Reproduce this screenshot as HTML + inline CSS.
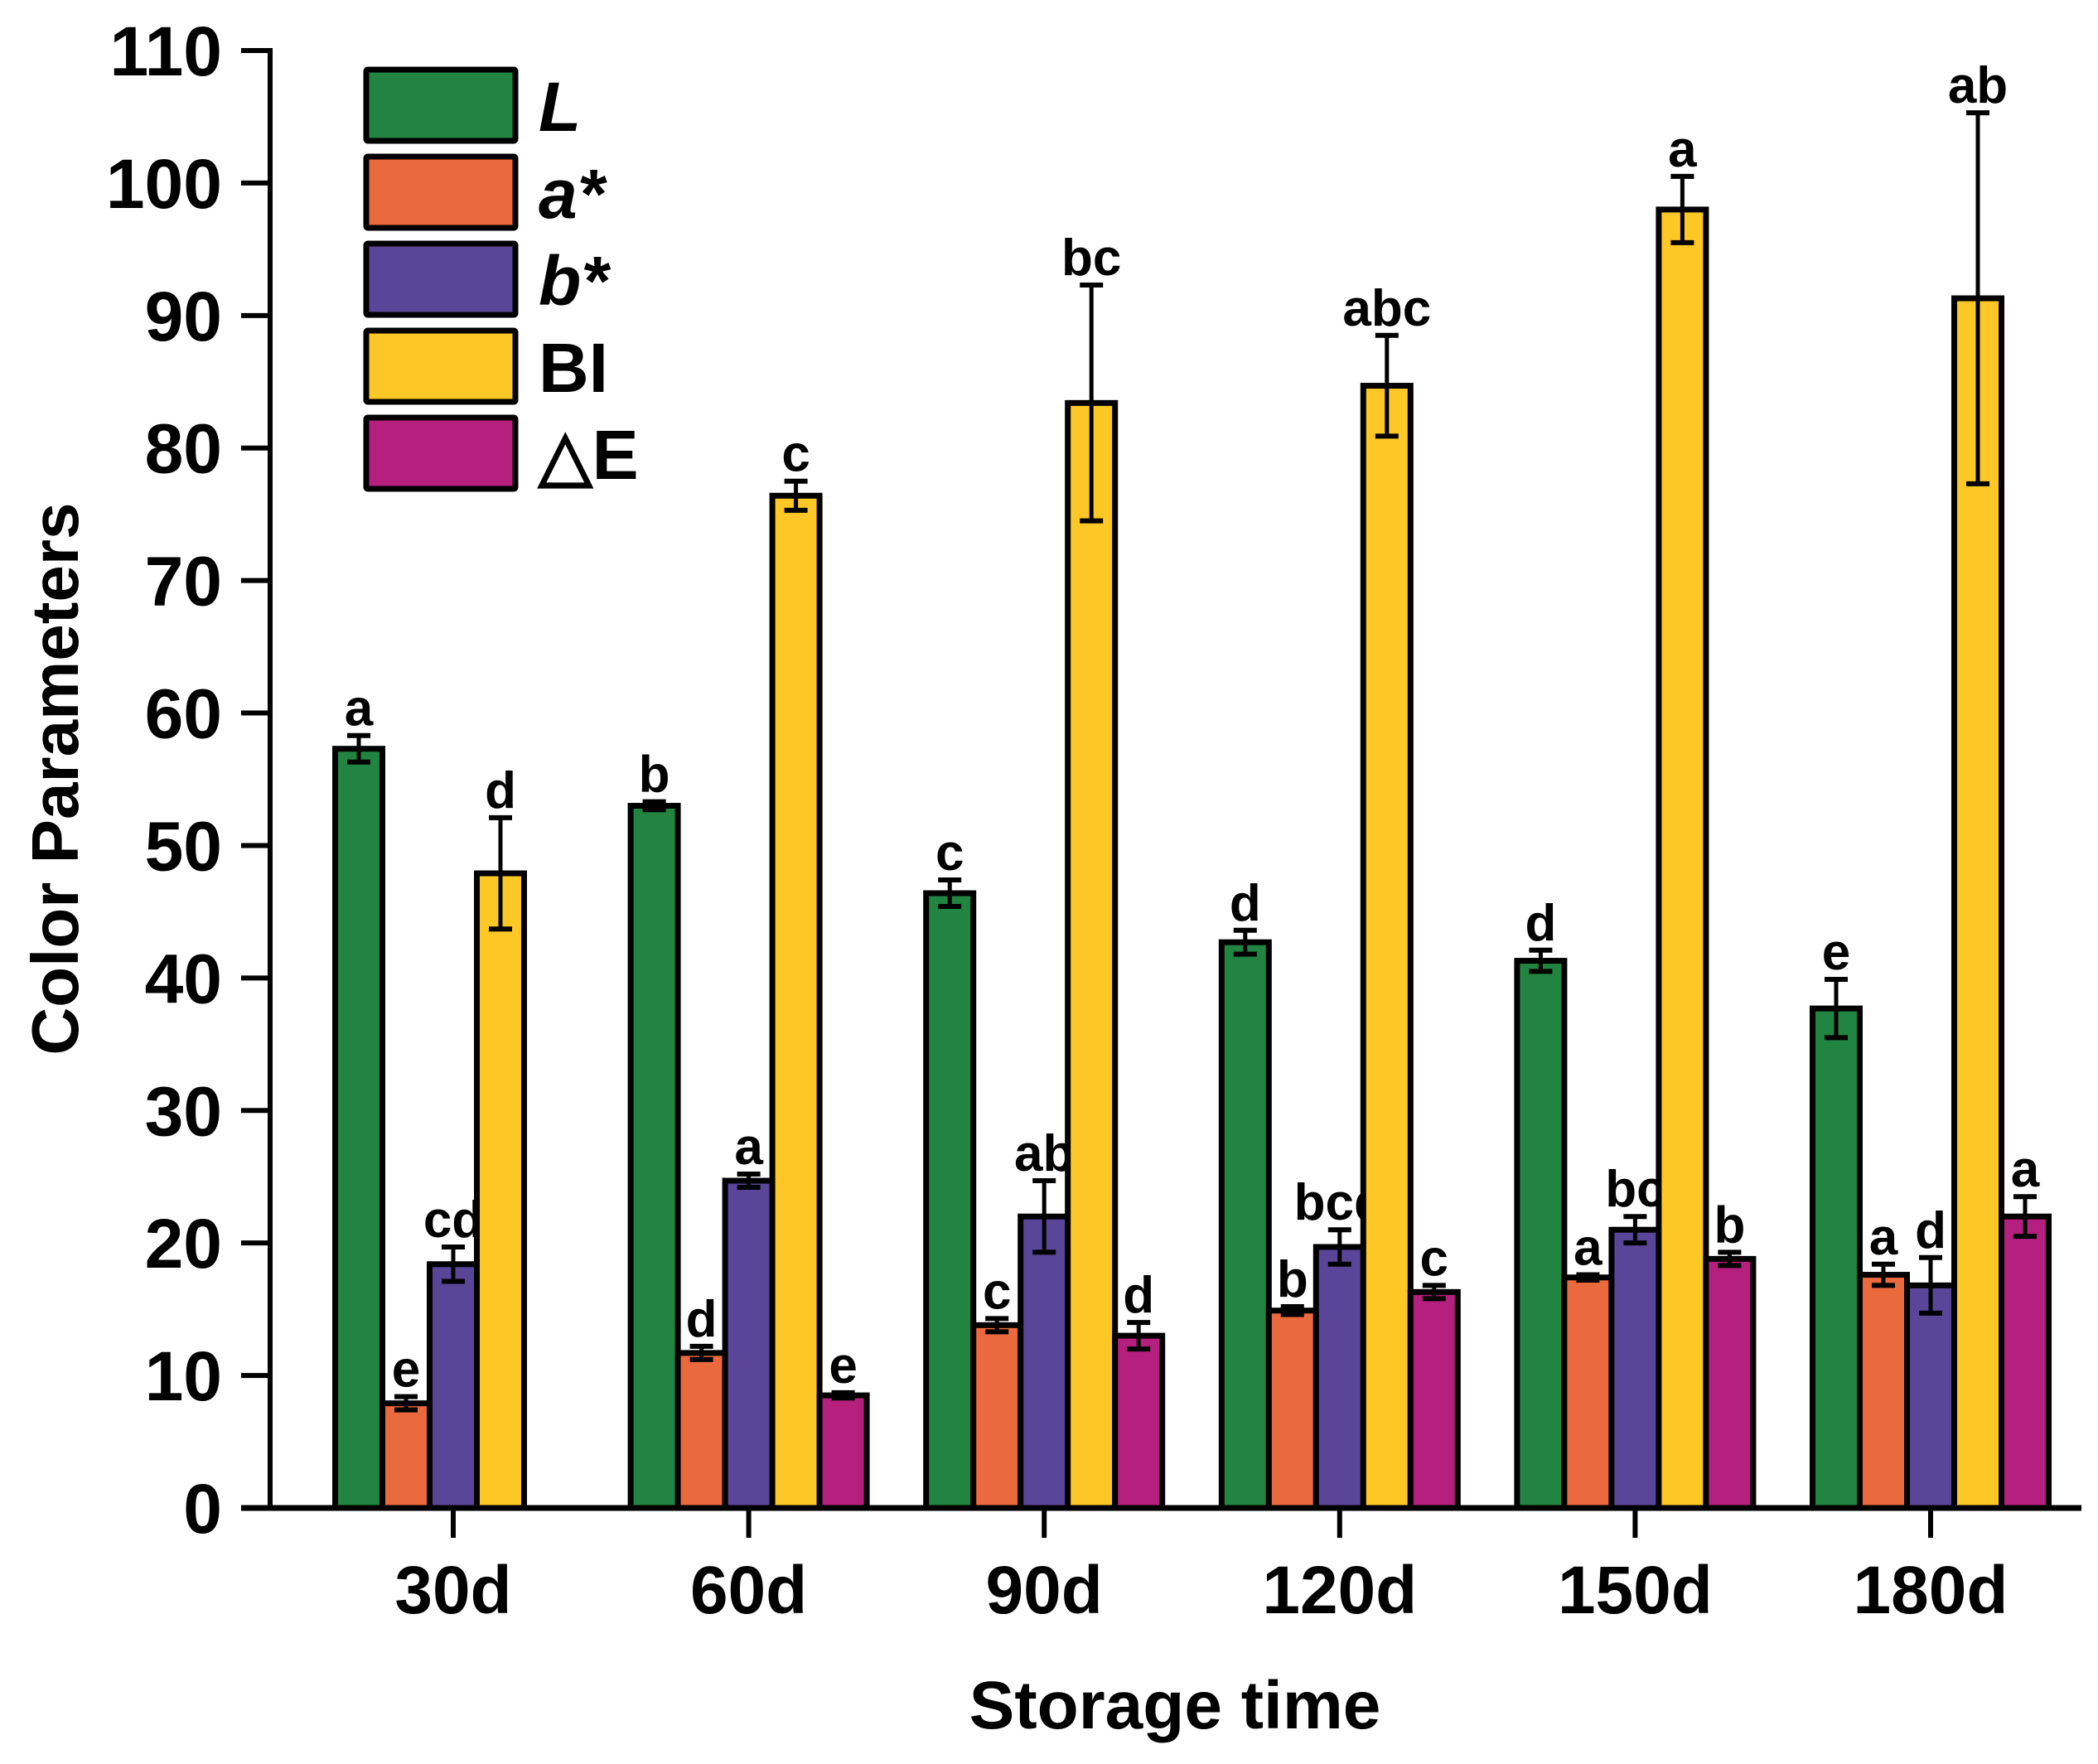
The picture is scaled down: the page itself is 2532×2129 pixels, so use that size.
<!DOCTYPE html>
<html><head><meta charset="utf-8"><style>
html,body{margin:0;padding:0;background:#fff;}
svg{display:block;font-family:"Liberation Sans",Arial,sans-serif;font-weight:bold;}
</style></head><body>
<svg id="chart" width="2532" height="2129" viewBox="0 0 2532 2129" xmlns="http://www.w3.org/2000/svg">
<g id="plot"></g>
<g id="axes"></g>
<g id="legend"></g>
<text transform="translate(94,940) rotate(-90)" text-anchor="middle" font-size="80">Color Parameters</text>
<text x="1418" y="2086" text-anchor="middle" font-size="82">Storage time</text>
</svg>
<script>
const categories = ["30d","60d","90d","120d","150d","180d"];
const seriesNames = ["L","a*","b*","BI","\u25B3E"];
const seriesColors = ["#218440","#EA6A3D","#5A4699","#FDC826","#B5207E"];
const valL  = [57.3,53.0,46.4,42.7,41.3,37.7];
const errL  = [1.0,0.3,1.0,0.9,0.8,2.2];
const lblL  = ["a","b","c","d","d","e"];
const valA  = [7.9,11.7,13.8,14.9,17.4,17.6];
const errA  = [0.5,0.5,0.5,0.3,0.2,0.8];
const lblA  = ["e","d","c","b","a","a"];
const valB  = [18.4,24.7,22.0,19.7,21.0,16.8];
const errB  = [1.3,0.5,2.7,1.3,1.0,2.1];
const lblB  = ["cd","a","ab","bcd","bc","d"];
const valBI = [47.9,76.4,83.4,84.7,98.0,91.3];
const errBI = [4.2,1.1,8.9,3.8,2.5,14.0];
const lblBI = ["d","c","bc","abc","a","ab"];
const valE  = [null,8.5,13.0,16.3,18.8,22.0];
const errE  = [0,0.2,1.0,0.5,0.5,1.5];
const lblE  = ["","e","d","c","b","a"];
const yTicks = [0,10,20,30,40,50,60,70,80,90,100,110];

const NS="http://www.w3.org/2000/svg";
const X0=326, Y0=1820, YTOP=61, YMAX=110;
const C0=547, CSTEP=356.6, BW=57;
function y(v){return Y0-(Y0-YTOP)*v/YMAX;}
function xc(i){return C0+CSTEP*i;}
function mk(tag,attrs,parent){const e=document.createElementNS(NS,tag);for(const k in attrs)e.setAttribute(k,attrs[k]);parent.appendChild(e);return e;}

const plot=document.getElementById('plot'), axes=document.getElementById('axes'), legend=document.getElementById('legend');
const vals=[valL,valA,valB,valBI,valE], errs=[errL,errA,errB,errBI,errE], lbls=[lblL,lblA,lblB,lblBI,lblE];
const keys=["l","a","b","bi","de"];

for(let s=0;s<5;s++){
  for(let i=0;i<categories.length;i++){
    const v=vals[s][i]; if(v===null) continue;
    const cx=xc(i)+(s-2)*BW;
    const r=mk('rect',{x:cx-BW/2,y:y(v),width:BW,height:Y0-y(v),fill:seriesColors[s],stroke:'#000','stroke-width':7},plot);
    
    
    const e=errs[s][i];
    const g=mk('g',{},plot);
    
    
    mk('line',{x1:cx,x2:cx,y1:y(v+e),y2:y(v-e),stroke:'#000','stroke-width':5},g);
    mk('line',{x1:cx-14,x2:cx+14,y1:y(v+e),y2:y(v+e),stroke:'#000','stroke-width':6},g);
    mk('line',{x1:cx-14,x2:cx+14,y1:y(v-e),y2:y(v-e),stroke:'#000','stroke-width':6},g);
    const t=mk('text',{x:cx,y:y(v+e)-12,'text-anchor':'middle','font-size':62},plot);
    
    
    t.textContent=lbls[s][i];
  }
}

const ya=mk('line',{x1:X0,x2:X0,y1:YTOP-3,y2:Y0+3,stroke:'#000','stroke-width':6},axes);


const xa=mk('line',{x1:X0-35,x2:2512,y1:Y0,y2:Y0,stroke:'#000','stroke-width':7},axes);


yTicks.forEach(v=>{
  mk('line',{x1:X0-35,x2:X0,y1:y(v),y2:y(v),stroke:'#000','stroke-width':6},axes);
  const t=mk('text',{x:268,y:y(v)+30,'text-anchor':'end','font-size':84},axes);
  
  
  t.textContent=v;
});
categories.forEach((c,i)=>{
  mk('line',{x1:xc(i),x2:xc(i),y1:Y0,y2:Y0+36,stroke:'#000','stroke-width':6},axes);
  const t=mk('text',{x:xc(i),y:1947,'text-anchor':'middle','font-size':82},axes);
  
  
  t.textContent=c;
});

for(let s=0;s<5;s++){
  const top=84+s*105;
  const g=mk('g',{},legend);
  
  
  mk('rect',{x:442,y:top,width:180,height:86,fill:seriesColors[s],stroke:'#000','stroke-width':7,rx:2},g);
  const t=mk('text',{x:650,y:top+74,'font-size':84},g);
  if(s===0||s===1||s===2) t.setAttribute('font-style','italic');
  t.textContent=seriesNames[s];
}
</script>
</body></html>
